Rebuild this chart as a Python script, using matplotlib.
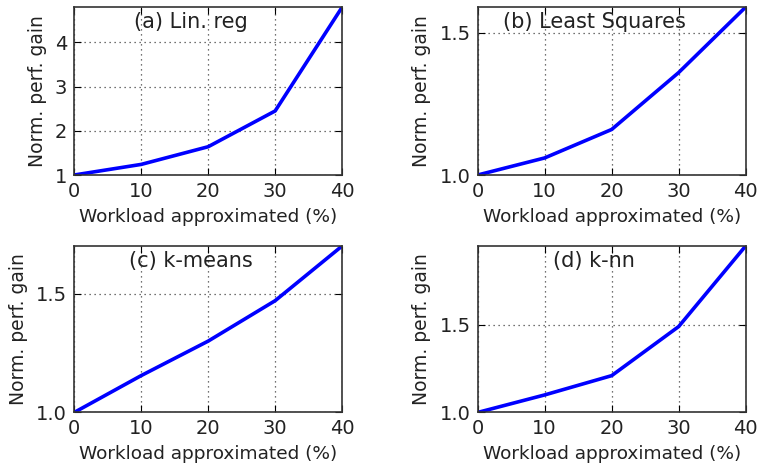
import matplotlib
matplotlib.use('Agg')
import matplotlib.pyplot as plt

workload = [0, 10, 20, 30, 40]
linreg = [1.0, 1.24, 1.64, 2.45, 4.8]
leastsq = [1.0, 1.06, 1.16, 1.36, 1.59]
kmeans = [1.0, 1.155, 1.30, 1.47, 1.70]
knn = [1.0, 1.10, 1.21, 1.49, 1.95]
titles = ['(a) Lin. reg', '(b) Least Squares', '(c) k-means', '(d) k-nn']
yticks = [[1, 2, 3, 4], [1.0, 1.5], [1.0, 1.5], [1.0, 1.5]]
ytick_labels = [['1', '2', '3', '4'], ['1.0', '1.5'], ['1.0', '1.5'], ['1.0', '1.5']]
series = [linreg, leastsq, kmeans, knn]

txt = '#222222'
fig = plt.figure(figsize=(7.57, 4.73), dpi=100)
boxes = [[0.098, 0.630, 0.354, 0.355],
         [0.631, 0.630, 0.354, 0.355],
         [0.098, 0.128, 0.354, 0.352],
         [0.631, 0.128, 0.354, 0.352]]

for i in range(4):
    ax = fig.add_axes(boxes[i])
    vals = series[i]
    ax.plot(workload, vals, color='#0000ff', lw=2.6)
    ax.set_xlim(0, 40)
    ax.set_ylim(vals[0], vals[-1])
    ax.set_xticks(workload)
    ax.set_yticks(yticks[i])
    ax.set_yticklabels(ytick_labels[i])
    ax.grid(True, color='#444444', linestyle=(0, (1, 3)), linewidth=0.9)
    ax.tick_params(direction='in', top=True, right=True, length=5,
                   labelsize=14, labelcolor=txt, pad=5)
    for s in ax.spines.values():
        s.set_linewidth(1.2)
        s.set_color('#333333')
    ax.set_xlabel('Workload approximated (%)', fontsize=13.3, color=txt,
                  labelpad=5)
    ax.set_ylabel('Norm. perf. gain', fontsize=13.5, color=txt, labelpad=6)
    ax.text(0.435, 0.97, titles[i], transform=ax.transAxes, ha='center',
            va='top', fontsize=15, color=txt)

fig.savefig('out.png', dpi=100)
